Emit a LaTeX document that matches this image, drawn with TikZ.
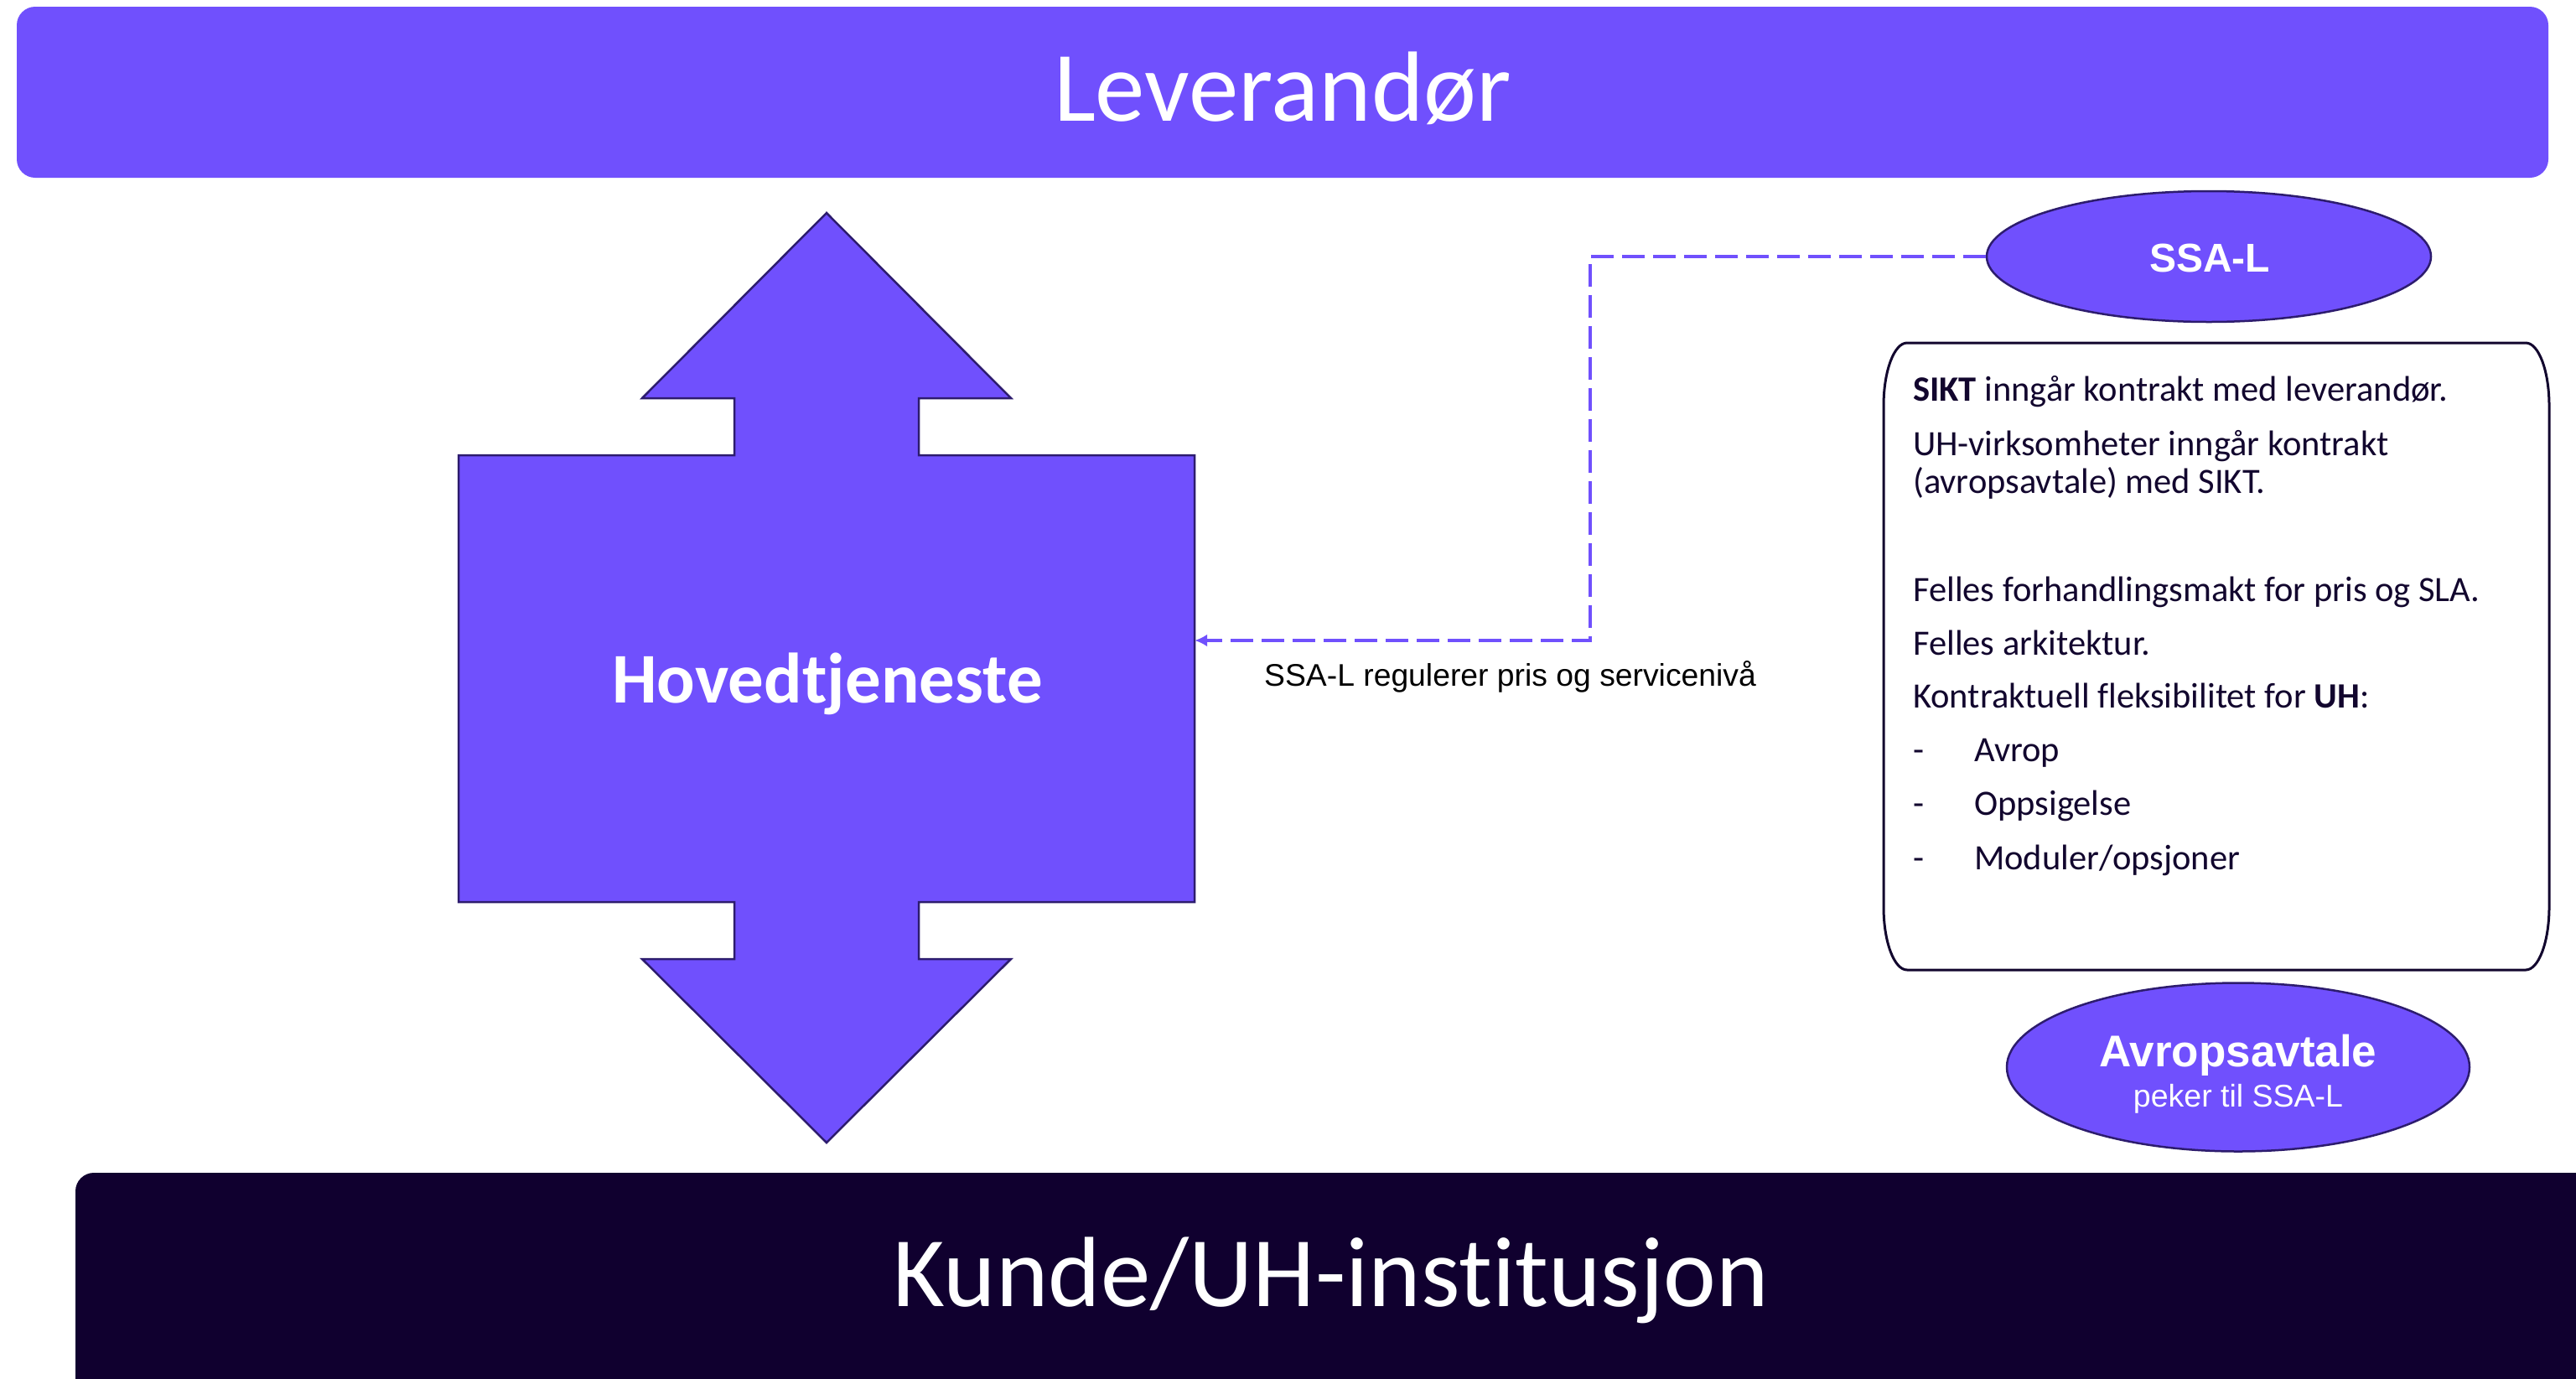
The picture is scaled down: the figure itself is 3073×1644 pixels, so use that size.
\documentclass[tikz,border=0pt]{standalone}
\usepackage{fontspec}
\setmainfont[Ligatures=NoCommon]{Carlito}
\newfontfamily\arialf{Liberation Sans}
\usetikzlibrary{arrows.meta,shapes.geometric}
\definecolor{lilla}{HTML}{7050FD}
\definecolor{navy}{HTML}{10002F}
\definecolor{edge}{HTML}{2D1C6E}
\definecolor{txt}{HTML}{12062E}
\tikzset{
  ell/.style={ellipse, fill=lilla, draw=edge, line width=2.5pt, inner sep=0pt},
  boxline/.style={anchor=base west, inner sep=0pt, text=txt, font=\fontsize{42.5}{48}\selectfont},
  conn/.style={draw=lilla, line width=3.3pt, dash pattern=on 27pt off 10pt, -{Latex[length=15pt,width=15pt]}},
}
\begin{document}
\begin{tikzpicture}[x=1pt,y=-1pt]
\useasboundingbox (0,0) rectangle (3073,1644);
\fill[white] (0,0) rectangle (3073,1644);
% top bar
\fill[lilla, rounded corners=22pt] (20,8) rectangle (3040,212);
\node (lev) [anchor=base, text=white, font=\fontsize{119}{130}\selectfont, inner sep=0pt] at (1530,144) {Leverandør};
% bottom bar
\fill[navy, rounded corners=22pt] (90,1399) rectangle (3110,1720);
\node (kunde) [anchor=base, text=white, font=\fontsize{119}{130}\selectfont, inner sep=0pt] at (1588,1558) {Kunde/UH-institusjon};
% main double arrow shape
\filldraw[fill=lilla, draw=edge, line width=2.5pt, line join=miter]
  (986,254) -- (1206,475) -- (1096,475) -- (1096,543) -- (1425,543) -- (1425,1076)
  -- (1096,1076) -- (1096,1144) -- (1206,1144) -- (986,1363) -- (766,1144)
  -- (876,1144) -- (876,1076) -- (547,1076) -- (547,543) -- (876,543)
  -- (876,475) -- (766,475) -- cycle;
\node (hov) [minimum width=878pt, minimum height=533pt, inner sep=0pt] at (986,809.5) {};
\node (hovtxt) [anchor=base, text=white, font=\bfseries\fontsize{85}{94}\selectfont, inner sep=0pt] at (987,838) {Hovedtjeneste};
% SSA-L ellipse
\node (ssal) [ell, minimum width=530pt, minimum height=156pt] at (2635,306) {};
\node (ssaltxt) [anchor=base, text=white, font=\arialf\bfseries\fontsize{48}{52}\selectfont, inner sep=0pt] at (2636,324) {SSA-L};
% connector
\coordinate (bend) at (1897,764);
\draw[conn] (ssal.west) -| (bend) -- (hov.east |- bend);
\node (lbl) [anchor=base west, inner sep=0pt, font=\arialf\fontsize{37.3}{41}\selectfont] at (1508,818) {SSA-L regulerer pris og servicenivå};
% text box
\draw[draw=txt, line width=3pt]
  (2275,409) -- (3013,409) arc[start angle=-90, end angle=0, x radius=28, y radius=75]
  -- (3041,1082) arc[start angle=0, end angle=90, x radius=28, y radius=75]
  -- (2275,1157) arc[start angle=90, end angle=180, x radius=28, y radius=75]
  -- (2247,484) arc[start angle=180, end angle=270, x radius=28, y radius=75] -- cycle;
\node (l1) [boxline] at (2282,478) {\textbf{SIKT} inngår kontrakt med leverandør.};
\node (l2) [boxline] at (2282,543) {UH-virksomheter inngår kontrakt};
\node (l3) [boxline] at (2282,588) {(avropsavtale) med SIKT.};
\node (l5) [boxline] at (2282,717) {Felles forhandlingsmakt for pris og SLA.};
\node (l6) [boxline] at (2282,781) {Felles arkitektur.};
\node (l7) [boxline] at (2282,844) {Kontraktuell fleksibilitet for \textbf{UH}:};
\node (d8) [boxline] at (2282,908) {-};
\node (l8) [boxline] at (2355,908) {Avrop};
\node (d9) [boxline] at (2282,972) {-};
\node (l9) [boxline] at (2355,972) {Oppsigelse};
\node (d10) [boxline] at (2282,1037) {-};
\node (l10) [boxline] at (2355,1037) {Moduler/opsjoner};
% Avropsavtale ellipse
\node (avr) [ell, minimum width=552pt, minimum height=201pt] at (2670,1273) {};
\node (avrtxt) [anchor=base, text=white, font=\arialf\bfseries\fontsize{53}{58}\selectfont, inner sep=0pt] at (2670,1272) {Avropsavtale};
\node (avrsub) [anchor=base, text=white, font=\arialf\fontsize{37.5}{42}\selectfont, inner sep=0pt] at (2670,1320) {peker til SSA-L};
\end{tikzpicture}
\end{document}
